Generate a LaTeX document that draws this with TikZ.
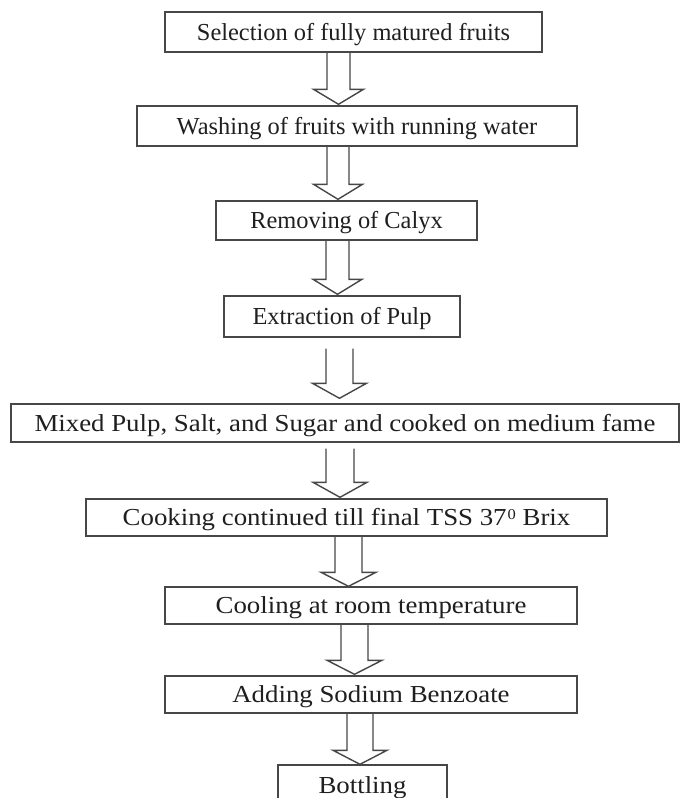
\documentclass[tikz,border=0pt]{standalone}
\usepackage{fontspec}
\setmainfont{Liberation Serif}
\newfontfamily\widefont[FakeStretch=1.1]{Liberation Serif}
\usetikzlibrary{calc}
\newcommand{\blockarr}[8]{%
  \draw[arr] let \p1=(#1.south), \p2=(#2.north) in
  (#3pt-#4pt, \y1-#7pt) -- (#3pt-#4pt, \y2+#8pt+#6pt) -- (#3pt-#5pt, \y2+#8pt+#6pt) --
  (#3pt, \y2+#8pt) -- (#3pt+#5pt, \y2+#8pt+#6pt) -- (#3pt+#4pt, \y2+#8pt+#6pt) --
  (#3pt+#4pt, \y1-#7pt);}
\newcommand{\supzero}{\kern1pt\raisebox{6.3pt}{\fontsize{15}{15}\selectfont 0}}
\begin{document}
\begin{tikzpicture}[x=1pt,y=-1pt,
  box/.style={draw=black!72, line width=1.4pt, inner sep=0pt, text=black!88,
    text height=16pt, text depth=0pt,
    font=\fontsize{24.4}{28}\selectfont},
  widebox/.style={box, font=\widefont\fontsize{24.4}{28}\selectfont},
  arr/.style={draw=black!72, line width=1.4pt, line join=miter}]
\fill[white] (0,0) rectangle (680,798);
\useasboundingbox (0,0) rectangle (680,798);
\clip (0,0) rectangle (680,798);
\node[box, minimum width=377pt, minimum height=40pt] (b1) at (353.5,32) {Selection of fully matured fruits};
\node[box, minimum width=440pt, minimum height=40pt] (b2) at (357,126) {Washing of fruits with running water};
\node[box, minimum width=261pt, minimum height=39pt] (b3) at (346.5,220.5) {Removing of Calyx};
\node[box, minimum width=236pt, minimum height=41pt] (b4) at (342,316.5) {Extraction of Pulp};
\node[widebox, minimum width=668pt, minimum height=38pt] (b5) at (345,423) {Mixed Pulp, Salt, and Sugar and cooked on medium fame};
\node[widebox, minimum width=521pt, minimum height=37pt] (b6) at (346.5,517.5) {Cooking continued till final TSS 37\supzero\ Brix};
\node[widebox, minimum width=412pt, minimum height=37pt] (b7) at (371,605.5) {Cooling at room temperature};
\node[widebox, minimum width=412pt, minimum height=37pt] (b8) at (371,694.5) {Adding Sodium Benzoate};
\node[widebox, minimum width=169pt, minimum height=40pt] (b9) at (362.5,785) {Bottling};
\blockarr{b1}{b2}{338.5}{11.5}{25}{15}{0}{1}
\blockarr{b2}{b3}{338}{11}{24.5}{15}{0}{1}
\blockarr{b3}{b4}{337.5}{11.5}{24.5}{15}{0}{1}
\blockarr{b4}{b5}{339.5}{13.5}{27}{15}{11}{5}
\blockarr{b5}{b6}{340}{14}{27}{15}{6}{1}
\blockarr{b6}{b7}{348.5}{13.5}{27.5}{14}{0}{0}
\blockarr{b7}{b8}{354.5}{13.5}{27.5}{14}{0}{1}
\blockarr{b8}{b9}{360}{13}{27}{14}{0}{0}
\end{tikzpicture}
\end{document}
